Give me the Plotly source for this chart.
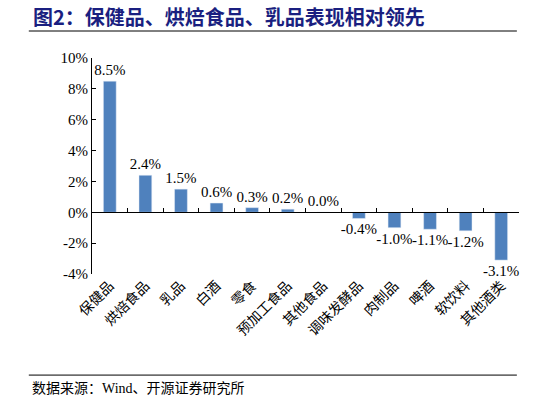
import plotly.graph_objects as go

# 数据
categories = ["保健品", "烘焙食品", "乳品", "白酒", "零食", "预加工食品", "其他食品",
              "调味发酵品", "肉制品", "啤酒", "软饮料", "其他酒类"]
values = [8.5, 2.4, 1.5, 0.6, 0.3, 0.2, 0.0, -0.4, -1.0, -1.1, -1.2, -3.1]
y_ticks = [-4, -2, 0, 2, 4, 6, 8, 10]
y_ticktext = ["-4%", "-2%", "0%", "2%", "4%", "6%", "8%", "10%"]

serif = '"Liberation Serif", "Noto Sans CJK SC", serif'
cjk = '"Noto Sans CJK SC"'

y_min, y_max = -4, 10

fig = go.Figure()

# 柱子（x 轴放在 0 线位置）
fig.add_trace(go.Bar(
    x=categories,
    y=values,
    marker_color="#4F81BD",
    text=[f"{v:.1f}%" for v in values],
    textposition="outside",
    constraintext="none",
    textfont=dict(family=serif, size=15, color="black"),
    cliponaxis=False,
    xaxis="x",
    yaxis="y",
    hoverinfo="skip",
))

# 底部的类别标签
fig.add_trace(go.Scatter(
    x=categories,
    y=values,
    mode="none",
    xaxis="x2",
    yaxis="y",
    hoverinfo="skip",
    showlegend=False,
))

zero_pos = (0 - y_min) / (y_max - y_min)

fig.update_layout(
    width=546,
    height=405,
    margin=dict(l=92, r=27, t=58, b=131),
    paper_bgcolor="white",
    plot_bgcolor="white",
    showlegend=False,
    bargap=0.64,
    xaxis=dict(
        anchor="free",
        position=zero_pos,
        showline=True,
        linecolor="black",
        linewidth=1,
        ticks="inside",
        ticklen=4,
        tickcolor="black",
        tickson="boundaries",
        showticklabels=False,
        showgrid=False,
        zeroline=False,
    ),
    xaxis2=dict(
        overlaying="x",
        matches="x",
        anchor="y",
        side="bottom",
        showline=False,
        ticks="",
        tickangle=-45,
        tickfont=dict(family=cjk, size=14, color="black"),
        showgrid=False,
        zeroline=False,
    ),
    yaxis=dict(
        range=[y_min, y_max],
        tickvals=y_ticks,
        ticktext=y_ticktext,
        tickfont=dict(family=serif, size=15, color="black"),
        showline=True,
        linecolor="black",
        linewidth=1,
        ticks="inside",
        ticklen=4,
        tickcolor="black",
        showgrid=False,
        zeroline=False,
        domain=[0, 1],
    ),
)

# 标题与标题下横线
fig.add_annotation(
    text="<b>图2：保健品、烘焙食品、乳品表现相对领先</b>",
    xref="paper", yref="paper",
    x=-0.143, y=1.194,
    xanchor="left", yanchor="middle",
    showarrow=False,
    font=dict(family=cjk, size=20, color="#1A1F80"),
)
fig.add_shape(type="line", xref="paper", yref="paper",
              x0=-0.148, x1=0.995, y0=1.125, y1=1.125,
              line=dict(color="black", width=1))

# 底部横线与数据来源
fig.add_shape(type="line", xref="paper", yref="paper",
              x0=-0.148, x1=0.995, y0=-0.468, y1=-0.468,
              line=dict(color="black", width=1))
fig.add_annotation(
    text="数据来源：Wind、开源证券研究所",
    xref="paper", yref="paper",
    x=-0.146, y=-0.528,
    xanchor="left", yanchor="middle",
    showarrow=False,
    font=dict(family=serif, size=14, color="black"),
)

# 去掉页面 body 的默认边距
fig.write_html("out.html", config={"displayModeBar": False},
               post_script="document.body.style.margin='0';")
